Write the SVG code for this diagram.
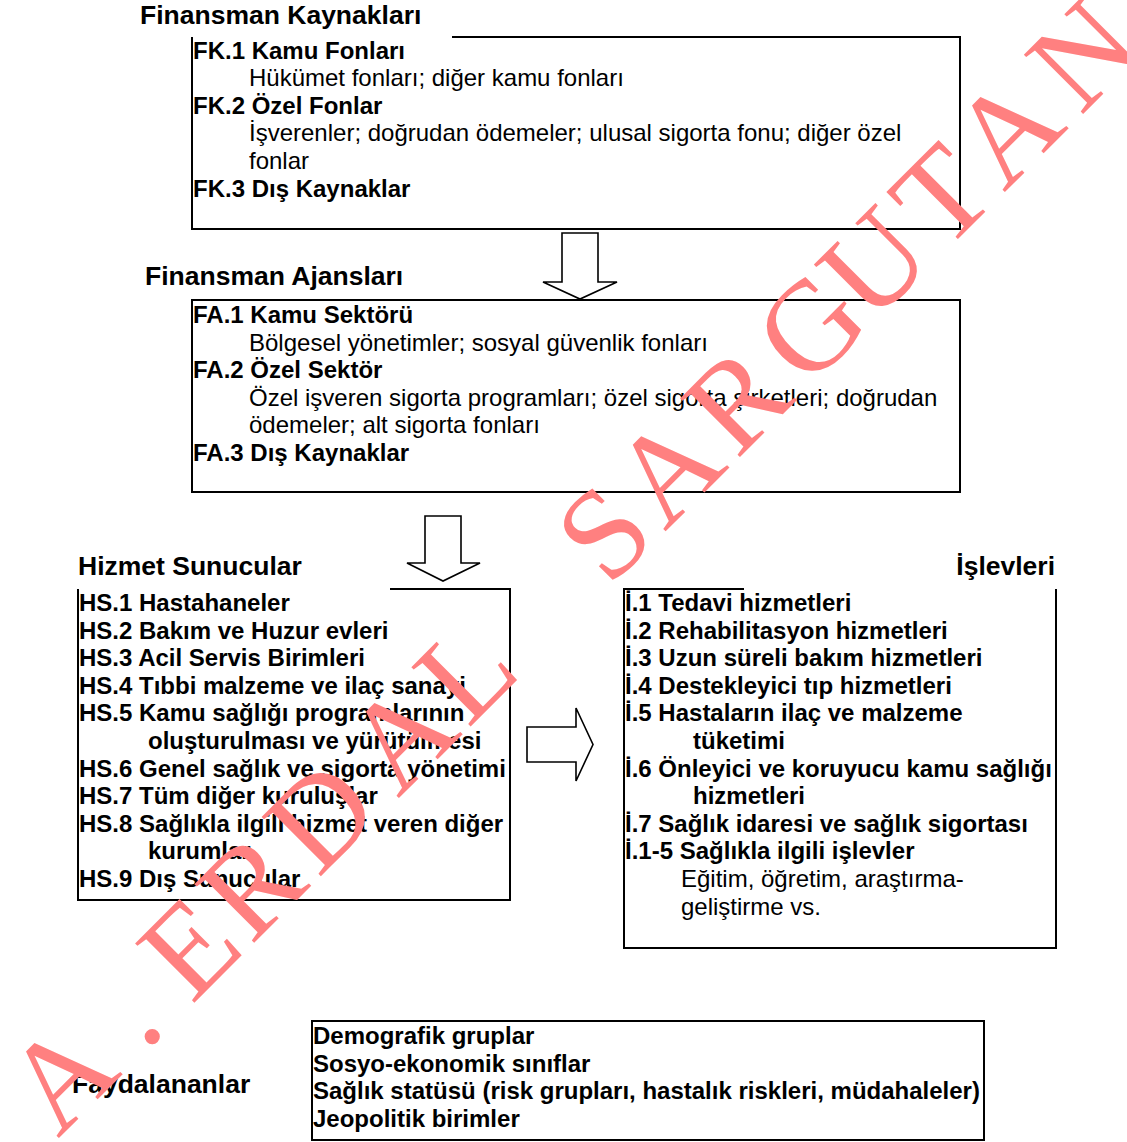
<svg xmlns="http://www.w3.org/2000/svg" width="1127" height="1142" viewBox="0 0 1127 1142">
<style>
  .h { font-family: "Liberation Sans", Arial, sans-serif; font-weight: bold; font-size: 26.5px; fill: #000; }
  .b { font-family: "Liberation Sans", Arial, sans-serif; font-weight: bold; font-size: 24px; fill: #000; }
  .r { font-family: "Liberation Sans", Arial, sans-serif; font-weight: normal; font-size: 24px; fill: #000; }
  .box { fill: none; stroke: #000; stroke-width: 2; }
  .arrow { fill: #fff; stroke: #000; stroke-width: 1.6; stroke-linejoin: miter; }
  .wm { font-family: "Liberation Serif", "Times New Roman", serif; font-size: 128px; fill: #ff8080; }
</style>
<rect x="0" y="0" width="1127" height="1142" fill="#fff"/>

<g id="connectors">
  <polygon class="arrow" points="562,233 598,233 598,282 617,282 580,299 543,282 562,282"/>
  <polygon class="arrow" points="425,516 461,516 461,563 480,563 443,581 407,563 425,563"/>
  <polygon class="arrow" points="527,727 576,727 576,708 593,744.5 576,781 576,762 527,762"/>
</g>

<g id="fk">
  <text class="h" x="140" y="24">Finansman Kaynakları</text>
  <path class="box" d="M452,37 H960 V229 H192 V37"/>
  <text class="b" x="193" y="58.5">FK.1 Kamu Fonları</text>
  <text class="r" x="249" y="86">Hükümet fonları; diğer kamu fonları</text>
  <text class="b" x="193" y="113.7">FK.2 Özel Fonlar</text>
  <text class="r" x="249" y="141.3">İşverenler; doğrudan ödemeler; ulusal sigorta fonu; diğer özel</text>
  <text class="r" x="249" y="168.9">fonlar</text>
  <text class="b" x="193" y="196.5">FK.3 Dış Kaynaklar</text>
</g>

<g id="fa">
  <text class="h" x="145" y="285">Finansman Ajansları</text>
  <rect class="box" x="192" y="300" width="768" height="192"/>
  <text class="b" x="193" y="323">FA.1 Kamu Sektörü</text>
  <text class="r" x="249" y="350.6">Bölgesel yönetimler; sosyal güvenlik fonları</text>
  <text class="b" x="193" y="378.2">FA.2 Özel Sektör</text>
  <text class="r" x="249" y="405.8">Özel işveren sigorta programları; özel sigorta şirketleri; doğrudan</text>
  <text class="r" x="249" y="433.4">ödemeler; alt sigorta fonları</text>
  <text class="b" x="193" y="461">FA.3 Dış Kaynaklar</text>
</g>

<g id="hs">
  <text class="h" x="78" y="575">Hizmet Sunucular</text>
  <path class="box" d="M390,589 H510 V900 H78 V589"/>
  <text class="b" x="79" y="611">HS.1 Hastahaneler</text>
  <text class="b" x="79" y="638.6">HS.2 Bakım ve Huzur evleri</text>
  <text class="b" x="79" y="666.2">HS.3 Acil Servis Birimleri</text>
  <text class="b" x="79" y="693.8">HS.4 Tıbbi malzeme ve ilaç sanayi</text>
  <text class="b" x="79" y="721.4">HS.5 Kamu sağlığı programlarının</text>
  <text class="b" x="148" y="749">oluşturulması ve yürütülmesi</text>
  <text class="b" x="79" y="776.6">HS.6 Genel sağlık ve sigorta yönetimi</text>
  <text class="b" x="79" y="804.2">HS.7 Tüm diğer kuruluşlar</text>
  <text class="b" x="79" y="831.8">HS.8 Sağlıkla ilgili hizmet veren diğer</text>
  <text class="b" x="148" y="859.4">kurumlar</text>
  <text class="b" x="79" y="887">HS.9 Dış Sunucular</text>
</g>

<g id="islevler">
  <text class="h" x="1055" y="575" text-anchor="end">İşlevleri</text>
  <path class="box" d="M744,589 H624 V948 H1056 V589"/>
  <text class="b" x="625" y="611">İ.1 Tedavi hizmetleri</text>
  <text class="b" x="625" y="638.6">İ.2 Rehabilitasyon hizmetleri</text>
  <text class="b" x="625" y="666.2">İ.3 Uzun süreli bakım hizmetleri</text>
  <text class="b" x="625" y="693.8">İ.4 Destekleyici tıp hizmetleri</text>
  <text class="b" x="625" y="721.4">İ.5 Hastaların ilaç ve malzeme</text>
  <text class="b" x="693" y="749">tüketimi</text>
  <text class="b" x="625" y="776.6">İ.6 Önleyici ve koruyucu kamu sağlığı</text>
  <text class="b" x="693" y="804.2">hizmetleri</text>
  <text class="b" x="625" y="831.8">İ.7 Sağlık idaresi ve sağlık sigortası</text>
  <text class="b" x="625" y="859.4">İ.1-5 Sağlıkla ilgili işlevler</text>
  <text class="r" x="681" y="887">Eğitim, öğretim, araştırma-</text>
  <text class="r" x="681" y="914.6">geliştirme vs.</text>
</g>

<g id="faydalananlar">
  <text class="h" x="72" y="1093">Faydalananlar</text>
  <rect class="box" x="312" y="1021" width="672" height="119"/>
  <text class="b" x="313" y="1044.4">Demografik gruplar</text>
  <text class="b" x="313" y="1071.8">Sosyo-ekonomik sınıflar</text>
  <text class="b" x="313" y="1099.2">Sağlık statüsü (risk grupları, hastalık riskleri, müdahaleler)</text>
  <text class="b" x="313" y="1126.6">Jeopolitik birimler</text>
</g>

<g id="watermark">
  <text class="wm" transform="translate(58,1139) rotate(-45)" x="0 123 150 189 273 368 481 580 700 779 858 960 1060 1150 1253 1338 1446" y="0">A. ERDAL SARGUTAN</text>
</g>
</svg>
